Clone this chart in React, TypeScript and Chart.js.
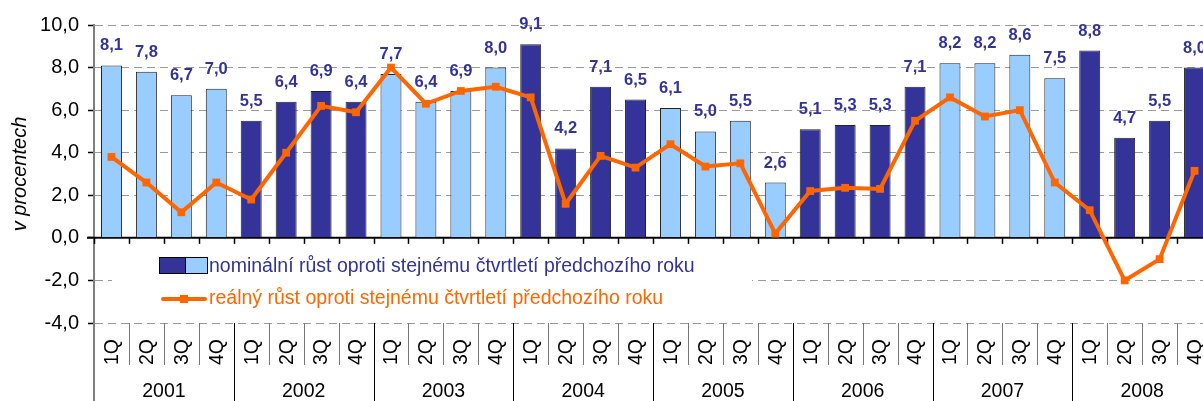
import React, { useEffect, useRef } from "react";
import { Chart, registerables } from "chart.js";

Chart.register(...registerables);

const years = ["2001", "2002", "2003", "2004", "2005", "2006", "2007", "2008"];
const quarters = ["1Q", "2Q", "3Q", "4Q"];
const categories = years.flatMap((y) => quarters.map((q) => `${q} ${y}`));

const nominal = [
  8.1, 7.8, 6.7, 7.0,
  5.5, 6.4, 6.9, 6.4,
  7.7, 6.4, 6.9, 8.0,
  9.1, 4.2, 7.1, 6.5,
  6.1, 5.0, 5.5, 2.6,
  5.1, 5.3, 5.3, 7.1,
  8.2, 8.2, 8.6, 7.5,
  8.8, 4.7, 5.5, 8.0,
];

const real = [
  3.8, 2.6, 1.2, 2.6,
  1.8, 4.0, 6.2, 5.9,
  8.0, 6.3, 6.9, 7.1,
  6.6, 1.6, 3.85, 3.3,
  4.4, 3.35, 3.5, 0.2,
  2.2, 2.35, 2.3, 5.5,
  6.6, 5.7, 6.0, 2.6,
  1.3, -2.0, -1.0, 3.15,
];

const yMin = -4;
const yMax = 10;
const yStep = 2;

const nominalLabel = "nominální růst oproti stejnému čtvrtletí předchozího roku";
const realLabel = "reálný růst oproti stejnému čtvrtletí předchozího roku";
const yTitle = "v procentech";

const DARK = "#333399";
const LIGHT = "#99CCFF";
const ORANGE = "#FF6600";
const FONT = "'Liberation Sans', Arial, sans-serif";

const fmt = (v: number) => v.toFixed(1).replace(".", ",");

const customPlugin = {
  id: "customDraw",
  beforeDatasetsDraw(chart: any) {
    const ctx = chart.ctx;
    const x = chart.scales.x;
    const y = chart.scales.y;
    const area = chart.chartArea;
    const y0 = y.getPixelForValue(0);
    const n = categories.length;
    const catW = (area.right - area.left) / n;
    ctx.save();
    ctx.strokeStyle = "#000";
    ctx.lineWidth = 2;
    ctx.beginPath();
    ctx.moveTo(area.left - 7, y0);
    ctx.lineTo(area.right, y0);
    ctx.stroke();
    ctx.lineWidth = 1.5;
    for (let i = 0; i <= n; i++) {
      const bx = Math.round(x.getPixelForValue(0) - catW / 2 + i * catW) + 0.5;
      ctx.beginPath();
      ctx.moveTo(bx, y0);
      ctx.lineTo(bx, y0 + 6);
      ctx.stroke();
    }
    ctx.restore();
  },
  afterDatasetsDraw(chart: any) {
    const ctx = chart.ctx;
    const meta = chart.getDatasetMeta(1);
    ctx.save();
    ctx.font = `bold 16.5px ${FONT}`;
    ctx.fillStyle = DARK;
    ctx.textAlign = "center";
    ctx.textBaseline = "alphabetic";
    meta.data.forEach((el: any, i: number) => {
      ctx.fillText(fmt(nominal[i]), el.x, el.y - 15);
    });
    ctx.restore();
  },
  afterDraw(chart: any) {
    const ctx = chart.ctx;
    const x = chart.scales.x;
    const area = chart.chartArea;
    const n = categories.length;
    const catW = (area.right - area.left) / n;
    const H = chart.height;

    // legend box
    ctx.save();
    ctx.fillStyle = "#fff";
    ctx.fillRect(112, 248, 640, 68);
    ctx.fillStyle = DARK;
    ctx.fillRect(159, 257, 26, 17);
    ctx.fillStyle = LIGHT;
    ctx.fillRect(185, 257, 23, 17);
    ctx.strokeStyle = "#000";
    ctx.lineWidth = 1;
    ctx.strokeRect(159.5, 257.5, 48, 16);
    ctx.beginPath();
    ctx.moveTo(185.5, 257);
    ctx.lineTo(185.5, 274);
    ctx.stroke();
    ctx.font = `19.5px ${FONT}`;
    ctx.textAlign = "left";
    ctx.textBaseline = "middle";
    ctx.fillStyle = DARK;
    ctx.fillText(nominalLabel, 209, 267);
    ctx.strokeStyle = ORANGE;
    ctx.lineWidth = 4;
    ctx.lineCap = "round";
    ctx.beginPath();
    ctx.moveTo(163, 299);
    ctx.lineTo(205, 299);
    ctx.stroke();
    ctx.fillStyle = ORANGE;
    ctx.fillRect(180, 295, 8, 8);
    ctx.fillText(realLabel, 209, 299);
    ctx.restore();

    // x labels
    ctx.save();
    const startX = x.getPixelForValue(0) - catW / 2;
    for (let i = 0; i <= n; i++) {
      const bx = Math.round(startX + i * catW) + 0.5;
      const isYear = i % 4 === 0;
      ctx.beginPath();
      ctx.strokeStyle = i === 0 ? "#808080" : isYear ? "#000" : "#777";
      ctx.lineWidth = i === 0 ? 2 : 1;
      ctx.moveTo(i === 0 ? area.left : bx, area.bottom);
      ctx.lineTo(i === 0 ? area.left : bx, isYear ? H : area.bottom + 42);
      ctx.stroke();
    }
    ctx.fillStyle = "#000";
    ctx.font = `19.5px ${FONT}`;
    ctx.textAlign = "center";
    ctx.textBaseline = "middle";
    for (let i = 0; i < n; i++) {
      const cx = x.getPixelForValue(i);
      ctx.save();
      ctx.translate(cx + 1, area.bottom + 29);
      ctx.rotate(-Math.PI / 2);
      ctx.fillText(quarters[i % 4], 0, 0);
      ctx.restore();
    }
    years.forEach((yr, j) => {
      const cx = startX + (j * 4 + 2) * catW;
      ctx.fillText(yr, cx, H - 9);
    });
    ctx.save();
    ctx.translate(20, (area.top + area.bottom) / 2);
    ctx.rotate(-Math.PI / 2);
    ctx.font = `italic 20px ${FONT}`;
    ctx.fillText(yTitle, 0, 0);
    ctx.restore();
    ctx.restore();
  },
};

export default function App() {
  const ref = useRef<HTMLCanvasElement | null>(null);
  useEffect(() => {
    const canvas = ref.current;
    if (!canvas) return;
    const chart = new Chart(canvas, {
      type: "bar",
      data: {
        labels: categories,
        datasets: [
          {
            type: "line",
            label: realLabel,
            data: real,
            borderColor: ORANGE,
            backgroundColor: ORANGE,
            borderWidth: 4,
            tension: 0,
            pointStyle: "rect",
            pointRadius: 5.5,
            pointBorderWidth: 0,
            pointBackgroundColor: ORANGE,
            order: 0,
            clip: false,
          } as any,
          {
            type: "bar",
            label: nominalLabel,
            data: nominal,
            backgroundColor: nominal.map((_, i) => (Math.floor(i / 4) % 2 === 0 ? LIGHT : DARK)),
            borderColor: "#222",
            borderWidth: 1,
            barPercentage: 0.6,
            categoryPercentage: 1,
            order: 1,
          } as any,
        ],
      },
      options: {
        responsive: false,
        animation: false,
        devicePixelRatio: 1,
        layout: { padding: { top: 25, right: 10, left: 0, bottom: 0 } },
        plugins: {
          legend: { display: false },
          tooltip: { enabled: false },
          title: { display: false },
        },
        scales: {
          x: {
            type: "category",
            ticks: { display: false },
            grid: { display: false },
            border: { display: false },
            afterFit: (scale: any) => {
              scale.height = 78;
            },
          },
          y: {
            type: "linear",
            min: yMin,
            max: yMax,
            ticks: {
              stepSize: yStep,
              color: "#000",
              font: { family: FONT, size: 20 },
              padding: 9,
              callback: (v: any) => fmt(Number(v)),
            },
            grid: {
              color: (c: any) => (c.tick && c.tick.value === 0 ? "rgba(0,0,0,0)" : "#9a9a9a"),
              lineWidth: 1,
              tickLength: 6,
              tickColor: "#000",
              tickWidth: 1.5,
            },
            border: { display: true, color: "#808080", width: 2, dash: [8, 5] },
            afterFit: (scale: any) => {
              scale.width = 94;
            },
          },
        },
      } as any,
      plugins: [customPlugin],
    });
    return () => chart.destroy();
  }, []);
  return (
    <div
      style={{
        position: "fixed",
        left: 0,
        top: 0,
        width: 1203,
        height: 401,
        overflow: "hidden",
        background: "#fff",
      }}
    >
      <canvas ref={ref} width={1222} height={401} style={{ display: "block" }} />
    </div>
  );
}
